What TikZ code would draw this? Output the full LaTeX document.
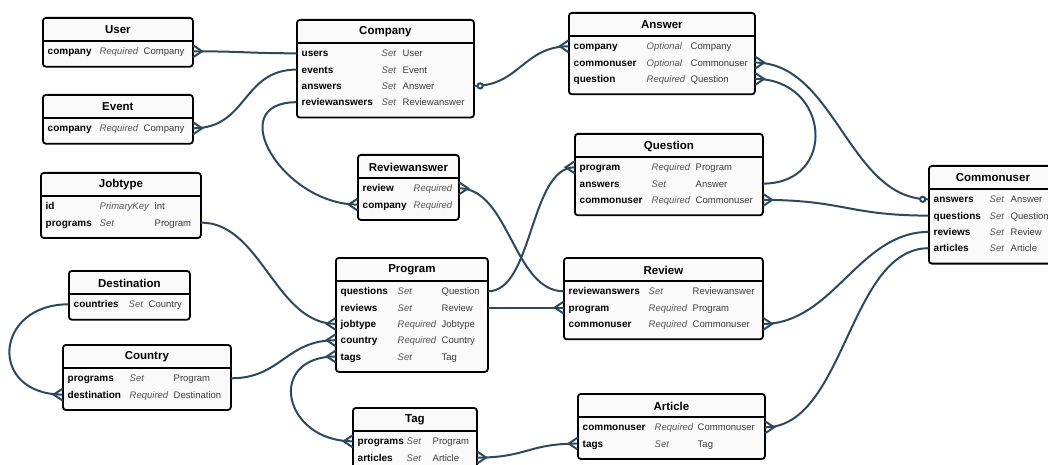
\documentclass[tikz,border=0pt]{standalone}
\usepackage{fontspec}
\setmainfont{Liberation Sans}
\usepackage{array}
\usetikzlibrary{calc}

\definecolor{relblue}{HTML}{2C4A5F}
\definecolor{modgray}{HTML}{555555}
\definecolor{typegray}{HTML}{3A3A3A}
\definecolor{boxfill}{HTML}{FAFAFA}

\tikzset{
  entitybox/.style={draw, line width=1.8pt, rounded corners=3pt, fill=boxfill, anchor=north west, inner sep=0pt},
  etitle/.style={font=\fontsize{11.5}{13}\selectfont\bfseries, inner sep=0pt},
  divider/.style={line width=1.2pt},
  fieldtab/.style={anchor=north west, inner sep=0pt, font=\fontsize{9.5}{16.3}\selectfont},
  fieldrow/.style={inner sep=0pt, minimum height=0pt},
  rel/.style={draw=relblue, line width=2pt},
  crow east/.pic={\draw[rel] (0,-6) -- (9,0) -- (0,6);},
  crow west/.pic={\draw[rel] (0,-6) -- (-9,0) -- (0,6);},
  opt east/.pic={\draw[rel, fill=white] (6,0) circle (2.6);},
  opt west/.pic={\draw[rel, fill=white] (-6,0) circle (2.6);}
}

% name, top left, width, column widths, field names, rows
\newcommand{\erentity}[7]{%
  \foreach \f [count=\i] in {#6} {\xdef\nrows{\i}}%
  \pgfmathsetmacro\boxh{32.5+16.3*\nrows}%
  \node[entitybox, minimum width=#3, minimum height=\boxh] (#1) at #2 {};
  \node[etitle] (#1-title) at ([yshift=-13pt]#1.north) {#1};
  \draw[divider] ([yshift=-24pt]#1.north west) -- ([yshift=-24pt]#1.north east);
  \node[fieldtab] (#1-fields) at ([xshift=5.5pt, yshift=-26.3pt]#1.north west)
    {\begin{tabular}{@{}>{\fontsize{10}{16.3}\selectfont\bfseries}w{l}{#4}@{}>{\itshape\color{modgray}}w{l}{#5}@{}>{\color{typegray}}l@{}}#7\end{tabular}};
  \foreach \f [count=\i] in {#6}
    {\node[fieldrow, minimum width=#3] (#1-\f) at ([yshift={-34.3pt-16.3pt*(\i-1)}]#1.north) {};}
}

\begin{document}
\begin{tikzpicture}[x=1pt, y=-1pt]
  \useasboundingbox (0,0) rectangle (1048,465);
  \clip (0,0) rectangle (1048,465);

  \erentity{User}{(42,17)}{150}{52pt}{44pt}{company}
    {company & Required & Company\\}
  \erentity{Event}{(42,94)}{150}{52pt}{44pt}{company}
    {company & Required & Company\\}
  \erentity{Company}{(296,19)}{177}{80pt}{21pt}{users,events,answers,reviewanswers}
    {users & Set & User\\ events & Set & Event\\ answers & Set & Answer\\ reviewanswers & Set & Reviewanswer\\}
  \erentity{Answer}{(568,12)}{186}{73pt}{44pt}{company,commonuser,question}
    {company & Optional & Company\\ commonuser & Optional & Commonuser\\ question & Required & Question\\}
  \erentity{Question}{(574,133)}{188}{72pt}{44pt}{program,answers,commonuser}
    {program & Required & Program\\ answers & Set & Answer\\ commonuser & Required & Commonuser\\}
  \erentity{Commonuser}{(928,165)}{128}{56pt}{21pt}{answers,questions,reviews,articles}
    {answers & Set & Answer\\ questions & Set & Question\\ reviews & Set & Review\\ articles & Set & Article\\}
  \erentity{Jobtype}{(40,172)}{160}{54pt}{55pt}{id,programs}
    {id & PrimaryKey & int\\ programs & Set & Program\\}
  \erentity{Reviewanswer}{(357,154)}{101}{51pt}{44pt}{review,company}
    {review & Required & \\ company & Required & \\}
  \erentity{Program}{(335,257)}{152}{57pt}{44pt}{questions,reviews,jobtype,country,tags}
    {questions & Set & Question\\ reviews & Set & Review\\ jobtype & Required & Jobtype\\ country & Required & Country\\ tags & Set & Tag\\}
  \erentity{Review}{(563,257)}{199}{80pt}{44pt}{reviewanswers,program,commonuser}
    {reviewanswers & Set & Reviewanswer\\ program & Required & Program\\ commonuser & Required & Commonuser\\}
  \erentity{Destination}{(68,270)}{121}{55pt}{20pt}{countries}
    {countries & Set & Country\\}
  \erentity{Country}{(62,344)}{168}{62pt}{44pt}{programs,destination}
    {programs & Set & Program\\ destination & Required & Destination\\}
  \erentity{Tag}{(352,407)}{124}{49pt}{26pt}{programs,articles}
    {programs & Set & Program\\ articles & Set & Article\\}
  \erentity{Article}{(577,393)}{187}{72pt}{43pt}{commonuser,tags}
    {commonuser & Required & Commonuser\\ tags & Set & Tag\\}

  % relations
  \draw[rel] (User-company.east) .. controls +(50,0) and +(-50,0) .. (Company-users.west);
  \draw[rel] (Event-company.east) .. controls +(55,0) and +(-55,0) .. (Company-events.west);
  \draw[rel] (Company-reviewanswers.west) .. controls +(-75,0) and +(-75,0) .. (Reviewanswer-company.west);
  \draw[rel] (Company-answers.east) .. controls +(45,0) and +(-45,0) .. (Answer-company.west);
  \draw[rel] (Answer-commonuser.east) .. controls +(80,0) and +(-80,0) .. (Commonuser-answers.west);
  \draw[rel] (Answer-question.east) .. controls +(75,0) and +(75,0) .. (Question-answers.east);
  \draw[rel] (Question-commonuser.east) .. controls +(80,0) and +(-80,0) .. (Commonuser-questions.west);
  \draw[rel] (Question-program.west) .. controls +(-45,0) and +(45,0) .. (Program-questions.east);
  \draw[rel] (Reviewanswer-review.east) .. controls +(50,0) and +(-50,0) .. (Review-reviewanswers.west);
  \draw[rel] (Program-reviews.east) -- (Review-program.west);
  \draw[rel] (Review-commonuser.east) .. controls +(70,0) and +(-70,0) .. (Commonuser-reviews.west);
  \draw[rel] (Article-commonuser.east) .. controls +(80,0) and +(-80,0) .. (Commonuser-articles.west);
  \draw[rel] (Jobtype-programs.east) .. controls +(60,0) and +(-60,0) .. (Program-jobtype.west);
  \draw[rel] (Country-programs.east) .. controls +(50,0) and +(-50,0) .. (Program-country.west);
  \draw[rel] (Program-tags.west) .. controls +(-70,0) and +(-70,0) .. (Tag-programs.west);
  \draw[rel] (Tag-articles.east) .. controls +(50,0) and +(-50,0) .. (Article-tags.west);
  \draw[rel] (Destination-countries.west) .. controls +(-75,0) and +(-75,0) .. (Country-destination.west);

  % ends
  \foreach \e in {User-company, Event-company, Answer-commonuser, Answer-question,
      Question-commonuser, Reviewanswer-review, Review-commonuser, Article-commonuser, Tag-articles}
    \pic at (\e.east) {crow east};
  \foreach \e in {Reviewanswer-company, Answer-company, Question-program, Review-program,
      Program-jobtype, Program-country, Program-tags, Tag-programs, Article-tags, Country-destination}
    \pic at (\e.west) {crow west};
  \pic at (Company-answers.east) {opt east};
  \pic at (Commonuser-answers.west) {opt west};
\end{tikzpicture}
\end{document}
